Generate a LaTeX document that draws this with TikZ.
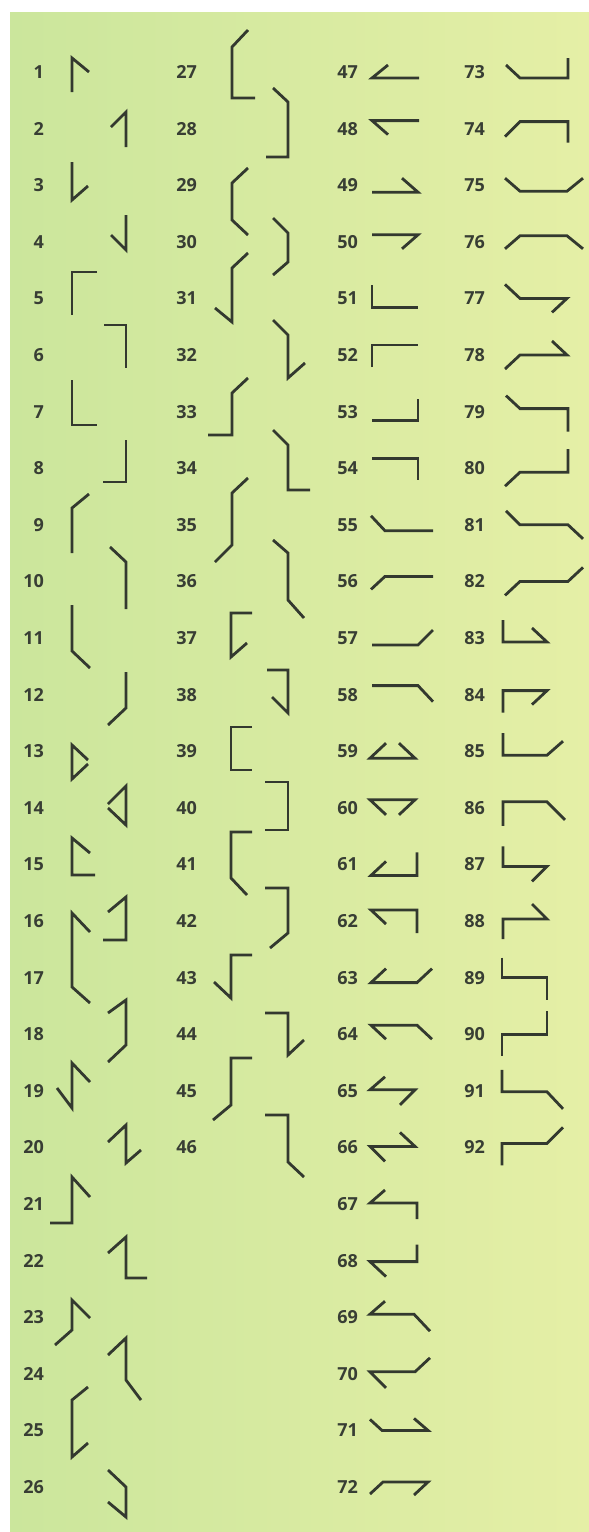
\documentclass[tikz,border=0pt]{standalone}
\usepackage{fontspec}
\setmainfont{Open Sans}
\usepackage{tikz}

\definecolor{ink}{HTML}{33392F}
\definecolor{numink}{HTML}{383E34}
\definecolor{leafL}{HTML}{CBE69C}
\definecolor{leafR}{HTML}{E5EFA6}

\begin{document}
\begin{tikzpicture}[x=1pt, y=-1pt,
  num/.style={anchor=east, inner sep=0pt, text=numink, font=\fontsize{18}{18}\selectfont\bfseries},
  glyph/.style={draw=ink, line width=2.8pt, line join=miter, line cap=butt}]
  \useasboundingbox (0,0) rectangle (589,1532);
  \fill[white] (0,0) rectangle (589,1532);
  \shade[left color=leafL, right color=leafR] (10,12) rectangle (589,1532);

  % column 1
  \node[num] (n1) at (44,72) {1};
  \draw[glyph] (72,92) -- (72,58) -- (89,72);
  \node[num] (n2) at (44,128.6) {2};
  \draw[glyph] (111,127) -- (126,112) -- (126,147);
  \node[num] (n3) at (44,185.2) {3};
  \draw[glyph] (72,162) -- (72,200) -- (88,186);
  \node[num] (n4) at (44,241.8) {4};
  \draw[glyph] (126,215) -- (126,250) -- (111,235);
  \node[num] (n5) at (44,298.4) {5};
  \draw[glyph] (97,272) -- (72,272) -- (72,315);
  \node[num] (n6) at (44,355) {6};
  \draw[glyph] (104,325) -- (126,325) -- (126,368);
  \node[num] (n7) at (44,411.6) {7};
  \draw[glyph] (72,380) -- (72,425) -- (97,425);
  \node[num] (n8) at (44,468.2) {8};
  \draw[glyph] (126,440) -- (126,482) -- (103,482);
  \node[num] (n9) at (44,524.8) {9};
  \draw[glyph] (89,494) -- (72,508) -- (72,553);
  \node[num] (n10) at (44,581.4) {10};
  \draw[glyph] (110,547) -- (126,562) -- (126,609);
  \node[num] (n11) at (44,638) {11};
  \draw[glyph] (72,605) -- (72,651) -- (90,668);
  \node[num] (n12) at (44,694.6) {12};
  \draw[glyph] (126,672) -- (126,708) -- (108,725);
  \node[num] (n13) at (44,751.2) {13};
  \draw[glyph] (88,760) -- (72,745) -- (72,779) -- (88,764);
  \node[num] (n14) at (44,807.8) {14};
  \draw[glyph] (108,804) -- (126,786) -- (126,825) -- (108,808);
  \node[num] (n15) at (44,864.4) {15};
  \draw[glyph] (90,853) -- (72,838) -- (72,875) -- (95,875);
  \node[num] (n16) at (44,921) {16};
  \draw[glyph] (108,912) -- (126,897) -- (126,940) -- (103,940);
  \node[num] (n17) at (44,977.6) {17};
  \draw[glyph] (90,932) -- (72,913) -- (72,987) -- (90,1003);
  \node[num] (n18) at (44,1034.2) {18};
  \draw[glyph] (108,1013) -- (126,1000) -- (126,1045) -- (108,1062);
  \node[num] (n19) at (44,1090.8) {19};
  \draw[glyph] (57,1088) -- (72,1108) -- (72,1063) -- (90,1082);
  \node[num] (n20) at (44,1147.4) {20};
  \draw[glyph] (108,1142) -- (126,1125) -- (126,1163) -- (141,1150);
  \node[num] (n21) at (44,1204) {21};
  \draw[glyph] (50,1223) -- (72,1223) -- (72,1177) -- (90,1197);
  \node[num] (n22) at (44,1260.6) {22};
  \draw[glyph] (108,1253) -- (126,1237) -- (126,1278) -- (147,1278);
  \node[num] (n23) at (44,1317.2) {23};
  \draw[glyph] (90,1318) -- (72,1300) -- (72,1330) -- (55,1345);
  \node[num] (n24) at (44,1373.8) {24};
  \draw[glyph] (108,1355) -- (126,1338) -- (126,1380) -- (141,1400);
  \node[num] (n25) at (44,1430.4) {25};
  \draw[glyph] (88,1387) -- (72,1400) -- (72,1457) -- (88,1443);
  \node[num] (n26) at (44,1487) {26};
  \draw[glyph] (108,1470) -- (126,1487) -- (126,1517) -- (108,1502);

  % column 2
  \node[num] (n27) at (197,72) {27};
  \draw[glyph] (248,30) -- (232,47) -- (232,98) -- (255,98);
  \node[num] (n28) at (197,128.6) {28};
  \draw[glyph] (273,88) -- (288,102) -- (288,157) -- (266,157);
  \node[num] (n29) at (197,185.2) {29};
  \draw[glyph] (248,168) -- (232,183) -- (232,220) -- (248,235);
  \node[num] (n30) at (197,241.8) {30};
  \draw[glyph] (273,218) -- (288,233) -- (288,262) -- (273,275);
  \node[num] (n31) at (197,298.4) {31};
  \draw[glyph] (248,253) -- (232,268) -- (232,322) -- (215,308);
  \node[num] (n32) at (197,355) {32};
  \draw[glyph] (273,320) -- (288,335) -- (288,378) -- (305,363);
  \node[num] (n33) at (197,411.6) {33};
  \draw[glyph] (248,378) -- (232,393) -- (232,435) -- (208,435);
  \node[num] (n34) at (197,468.2) {34};
  \draw[glyph] (273,430) -- (288,445) -- (288,490) -- (310,490);
  \node[num] (n35) at (197,524.8) {35};
  \draw[glyph] (248,478) -- (232,493) -- (232,545) -- (215,562);
  \node[num] (n36) at (197,581.4) {36};
  \draw[glyph] (273,540) -- (288,553) -- (288,600) -- (304,618);
  \node[num] (n37) at (197,638) {37};
  \draw[glyph] (252,613) -- (231,613) -- (231,657) -- (247,643);
  \node[num] (n38) at (197,694.6) {38};
  \draw[glyph] (267,670) -- (288,670) -- (288,713) -- (272,697);
  \node[num] (n39) at (197,751.2) {39};
  \draw[glyph] (252,727) -- (231,727) -- (231,770) -- (252,770);
  \node[num] (n40) at (197,807.8) {40};
  \draw[glyph] (265,782) -- (288,782) -- (288,830) -- (265,830);
  \node[num] (n41) at (197,864.4) {41};
  \draw[glyph] (252,832) -- (231,832) -- (231,878) -- (247,895);
  \node[num] (n42) at (197,921) {42};
  \draw[glyph] (265,888) -- (288,888) -- (288,933) -- (270,948);
  \node[num] (n43) at (197,977.6) {43};
  \draw[glyph] (252,955) -- (231,955) -- (231,998) -- (214,982);
  \node[num] (n44) at (197,1034.2) {44};
  \draw[glyph] (265,1013) -- (288,1013) -- (288,1055) -- (304,1040);
  \node[num] (n45) at (197,1090.8) {45};
  \draw[glyph] (252,1058) -- (231,1058) -- (231,1105) -- (213,1120);
  \node[num] (n46) at (197,1147.4) {46};
  \draw[glyph] (265,1115) -- (288,1115) -- (288,1162) -- (304,1177);

  % column 3
  \node[num] (n47) at (358,72) {47};
  \draw[glyph, shift={(0,72)}] (388,-7) -- (372,6) -- (419,6);
  \node[num] (n48) at (358,128.6) {48};
  \draw[glyph, shift={(0,128.6)}] (419,-8) -- (372,-8) -- (388,6);
  \node[num] (n49) at (358,185.2) {49};
  \draw[glyph, shift={(0,185.2)}] (372,7) -- (418,7) -- (402,-7);
  \node[num] (n50) at (358,241.8) {50};
  \draw[glyph, shift={(0,241.8)}] (372,-7) -- (418,-7) -- (402,7);
  \node[num] (n51) at (358,298.4) {51};
  \draw[glyph, shift={(0,298.4)}] (372,-13) -- (372,9) -- (418,9);
  \node[num] (n52) at (358,355) {52};
  \draw[glyph, shift={(0,355)}] (372,12) -- (372,-10) -- (418,-10);
  \node[num] (n53) at (358,411.6) {53};
  \draw[glyph, shift={(0,411.6)}] (372,9) -- (418,9) -- (418,-13);
  \node[num] (n54) at (358,468.2) {54};
  \draw[glyph, shift={(0,468.2)}] (372,-10) -- (418,-10) -- (418,12);
  \node[num] (n55) at (358,524.8) {55};
  \draw[glyph, shift={(0,524.8)}] (371,-9) -- (385,6) -- (433,6);
  \node[num] (n56) at (358,581.4) {56};
  \draw[glyph, shift={(0,581.4)}] (371,8) -- (385,-5) -- (433,-5);
  \node[num] (n57) at (358,638) {57};
  \draw[glyph, shift={(0,638)}] (372,7) -- (418,7) -- (433,-8);
  \node[num] (n58) at (358,694.6) {58};
  \draw[glyph, shift={(0,694.6)}] (372,-9) -- (418,-9) -- (433,7);
  \node[num] (n59) at (358,751.2) {59};
  \draw[glyph, shift={(0,751.2)}] (386,-8) -- (370,7) -- (415,7) -- (399,-8);
  \node[num] (n60) at (358,807.8) {60};
  \draw[glyph, shift={(0,807.8)}] (386,7) -- (370,-8) -- (415,-8) -- (399,7);
  \node[num] (n61) at (358,864.4) {61};
  \draw[glyph, shift={(0,864.4)}] (386,-3) -- (371,11) -- (417,11) -- (417,-12);
  \node[num] (n62) at (358,921) {62};
  \draw[glyph, shift={(0,921)}] (386,3) -- (371,-11) -- (417,-11) -- (417,12);
  \node[num] (n63) at (358,977.6) {63};
  \draw[glyph, shift={(0,977.6)}] (386,-9) -- (371,5) -- (417,5) -- (432,-9);
  \node[num] (n64) at (358,1034.2) {64};
  \draw[glyph, shift={(0,1034.2)}] (386,5) -- (371,-9) -- (417,-9) -- (432,5);
  \node[num] (n65) at (358,1090.8) {65};
  \draw[glyph, shift={(0,1090.8)}] (385,-14) -- (370,-1) -- (415,-1) -- (400,14);
  \node[num] (n66) at (358,1147.4) {66};
  \draw[glyph, shift={(0,1147.4)}] (385,14) -- (370,-1) -- (415,-1) -- (400,-15);
  \node[num] (n67) at (358,1204) {67};
  \draw[glyph, shift={(0,1204)}] (385,-14) -- (370,-1) -- (417,-1) -- (417,15);
  \node[num] (n68) at (358,1260.6) {68};
  \draw[glyph, shift={(0,1260.6)}] (417,-16) -- (417,1) -- (370,1) -- (386,16);
  \node[num] (n69) at (358,1317.2) {69};
  \draw[glyph, shift={(0,1317.2)}] (385,-16) -- (370,-3) -- (414,-3) -- (430,14);
  \node[num] (n70) at (358,1373.8) {70};
  \draw[glyph, shift={(0,1373.8)}] (430,-16) -- (415,-2) -- (370,-2) -- (386,14);
  \node[num] (n71) at (358,1430.4) {71};
  \draw[glyph, shift={(0,1430.4)}] (370,-11) -- (382,0) -- (428,0) -- (414,-12);
  \node[num] (n72) at (358,1487) {72};
  \draw[glyph, shift={(0,1487)}] (370,7) -- (383,-5) -- (428,-5) -- (414,8);

  % column 4
  \node[num] (n73) at (485,72) {73};
  \draw[glyph, shift={(0,72)}] (506,-7) -- (520,6) -- (568,6) -- (568,-14);
  \node[num] (n74) at (485,128.6) {74};
  \draw[glyph, shift={(0,128.6)}] (505,8) -- (520,-7) -- (568,-7) -- (568,14);
  \node[num] (n75) at (485,185.2) {75};
  \draw[glyph, shift={(0,185.2)}] (505,-7) -- (520,6) -- (567,6) -- (583,-7);
  \node[num] (n76) at (485,241.8) {76};
  \draw[glyph, shift={(0,241.8)}] (505,7) -- (520,-6) -- (567,-6) -- (583,7);
  \node[num] (n77) at (485,298.4) {77};
  \draw[glyph, shift={(0,298.4)}] (505,-14) -- (520,0) -- (567,0) -- (552,14);
  \node[num] (n78) at (485,355) {78};
  \draw[glyph, shift={(0,355)}] (505,14) -- (520,0) -- (567,0) -- (552,-14);
  \node[num] (n79) at (485,411.6) {79};
  \draw[glyph, shift={(0,411.6)}] (506,-16) -- (520,-3) -- (568,-3) -- (568,20);
  \node[num] (n80) at (485,468.2) {80};
  \draw[glyph, shift={(0,468.2)}] (568,-19) -- (568,4) -- (520,4) -- (505,18);
  \node[num] (n81) at (485,524.8) {81};
  \draw[glyph, shift={(0,524.8)}] (506,-14) -- (520,0) -- (568,0) -- (583,14);
  \node[num] (n82) at (485,581.4) {82};
  \draw[glyph, shift={(0,581.4)}] (505,14) -- (520,0) -- (568,0) -- (583,-14);
  \node[num] (n83) at (485,638) {83};
  \draw[glyph, shift={(0,638)}] (503,-18) -- (503,4) -- (547,4) -- (532,-10);
  \node[num] (n84) at (485,694.6) {84};
  \draw[glyph, shift={(0,694.6)}] (503,18) -- (503,-4) -- (547,-4) -- (532,10);
  \node[num] (n85) at (485,751.2) {85};
  \draw[glyph, shift={(0,751.2)}] (503,-18) -- (503,4) -- (547,4) -- (563,-10);
  \node[num] (n86) at (485,807.8) {86};
  \draw[glyph, shift={(0,807.8)}] (503,18) -- (503,-6) -- (547,-6) -- (565,12);
  \node[num] (n87) at (485,864.4) {87};
  \draw[glyph, shift={(0,864.4)}] (503,-18) -- (503,2) -- (547,2) -- (532,17);
  \node[num] (n88) at (485,921) {88};
  \draw[glyph, shift={(0,921)}] (503,18) -- (503,-2) -- (547,-2) -- (532,-17);
  \node[num] (n89) at (485,977.6) {89};
  \draw[glyph, shift={(0,977.6)}] (502,-20) -- (502,0) -- (547,0) -- (547,22);
  \node[num] (n90) at (485,1034.2) {90};
  \draw[glyph, shift={(0,1034.2)}] (547,-23) -- (547,0) -- (502,0) -- (502,22);
  \node[num] (n91) at (485,1090.8) {91};
  \draw[glyph, shift={(0,1090.8)}] (502,-21) -- (502,1) -- (547,1) -- (563,18);
  \node[num] (n92) at (485,1147.4) {92};
  \draw[glyph, shift={(0,1147.4)}] (563,-20) -- (547,-4) -- (502,-4) -- (502,18);
\end{tikzpicture}
\end{document}
